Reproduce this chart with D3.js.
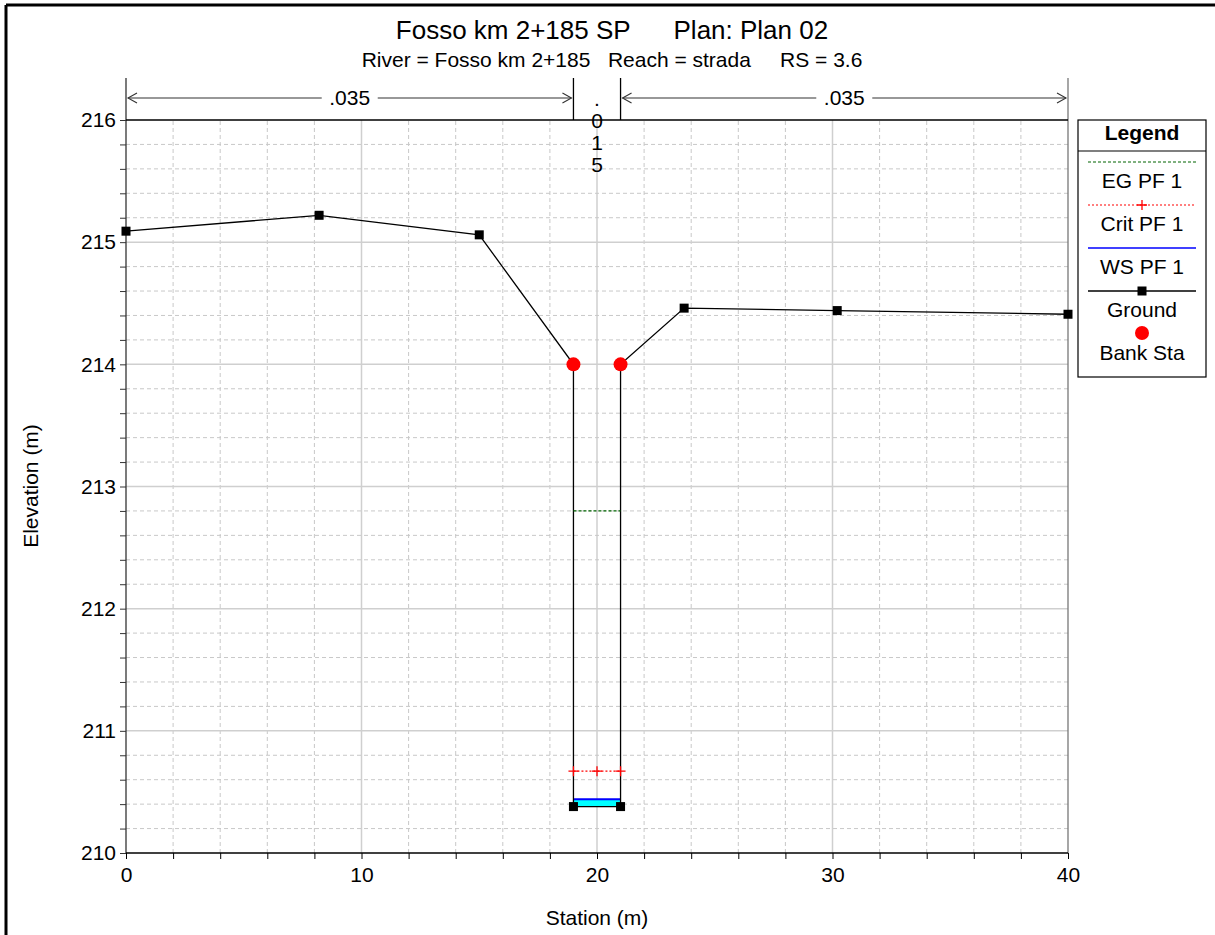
<!DOCTYPE html>
<html><head><meta charset="utf-8">
<script src="https://cdn.jsdelivr.net/npm/d3@7"></script>
<style>body{margin:0;background:#fff}text{font-family:"Liberation Sans",Arial,sans-serif}</style>
</head><body>
<script>
// ---- data ----
const groundStation = [0, 8.2, 15, 19, 19, 21, 21, 23.7, 30.2, 40];
const groundElev    = [215.09, 215.22, 215.06, 214.0, 210.38, 210.38, 214.0, 214.46, 214.44, 214.41];
const bankStation = [19, 21];
const bankElev = [214.0, 214.0];
const wsElev = 210.44;
const critElev = 210.67;
const critStations = [19, 20, 21];
const egElev = 212.80;
const channelStations = [19, 21];
const nValues = [".035", ".015", ".035"];
const nBreaks = [0, 19, 21, 40];
const xTicks = [0, 10, 20, 30, 40];
const yTicks = [210, 211, 212, 213, 214, 215, 216];
const legendItems = ["EG PF 1", "Crit PF 1", "WS PF 1", "Ground", "Bank Sta"];

const W = 1215, H = 935;
const svg = d3.select("body").append("svg").attr("width", W).attr("height", H);
const x = d3.scaleLinear().domain([0, 40]).range([126, 1068]);
const y = d3.scaleLinear().domain([210, 216]).range([853, 120]);
const FS = 21;

// outer frame (top & left)
svg.append("line").attr("x1",6).attr("x2",W).attr("y1",5).attr("y2",5).attr("stroke","#000").attr("stroke-width",3);
svg.append("line").attr("x1",6).attr("x2",6).attr("y1",5).attr("y2",H).attr("stroke","#000").attr("stroke-width",3);

// grid
const g = svg.append("g");
d3.range(0, 40.001, 2).forEach(v => {
  if (v === 0 || v === 40) return;
  const major = v % 10 === 0;
  g.append("line").attr("x1",x(v)).attr("x2",x(v)).attr("y1",y(210)).attr("y2",y(216))
    .attr("stroke", major ? "#cfcfcf" : "#c8c8c8").attr("stroke-width", major?1.5:1)
    .attr("stroke-dasharray", major ? null : "4,3");
});
d3.range(0, 30).forEach(i => {
  const v = 210 + i * 0.2;
  if (i === 0) return;
  const major = i % 5 === 0;
  g.append("line").attr("x1",x(0)).attr("x2",x(40)).attr("y1",y(v)).attr("y2",y(v))
    .attr("stroke", major ? "#cfcfcf" : "#c8c8c8").attr("stroke-width", major?1.5:1)
    .attr("stroke-dasharray", major ? null : "4,3");
});

// axes
const yAxis = d3.axisLeft(y).tickValues(d3.range(0,31).map(i=>210+i*0.2)).tickSize(6)
  .tickFormat(d => yTicks.some(t => Math.abs(t - d) < 1e-6) ? d3.format("d")(Math.round(d)) : "");
const ya = svg.append("g").attr("transform",`translate(${x(0)},0)`).call(yAxis);
ya.select(".domain").remove();
ya.selectAll("line").attr("stroke","#333");
ya.selectAll("text").attr("font-size",FS).attr("fill","#000").attr("dx","-1px");

const xAxis = d3.axisBottom(x).tickValues(d3.range(0,41,2)).tickSize(6)
  .tickFormat(d => xTicks.includes(d) ? d : "");
const xa = svg.append("g").attr("transform",`translate(0,${y(210)})`).call(xAxis);
xa.select(".domain").remove();
xa.selectAll("line").attr("stroke","#000");
xa.selectAll("text").attr("font-size",FS).attr("fill","#000").attr("dy","0.95em");

// plot borders
svg.append("line").attr("x1",x(0)).attr("x2",x(0)).attr("y1",78).attr("y2",y(210)).attr("stroke","#333").attr("stroke-width",1.3);
svg.append("line").attr("x1",x(40)).attr("x2",x(40)).attr("y1",78).attr("y2",y(210)).attr("stroke","#777").attr("stroke-width",1.3);
svg.append("line").attr("x1",x(0)).attr("x2",x(40)).attr("y1",y(210)).attr("y2",y(210)).attr("stroke","#000").attr("stroke-width",1.5);
svg.append("line").attr("x1",x(0)).attr("x2",x(40)).attr("y1",y(216)).attr("y2",y(216)).attr("stroke","#000").attr("stroke-width",1.5);

// n-value bars at top
[19, 21].forEach(s => svg.append("line").attr("x1",x(s)).attr("x2",x(s)).attr("y1",78).attr("y2",y(216)).attr("stroke","#000").attr("stroke-width",1.3));
function arrow(s0, s1, label) {
  const a = x(s0) + 2, b = x(s1) - 2, yy = 98;
  const ga = svg.append("g").attr("stroke","#333").attr("fill","none").attr("stroke-width",1.1);
  ga.append("line").attr("x1",a).attr("x2",b).attr("y1",yy).attr("y2",yy);
  ga.append("path").attr("d",`M${a+9},${yy-5}L${a},${yy}L${a+9},${yy+5}`);
  ga.append("path").attr("d",`M${b-9},${yy-5}L${b},${yy}L${b-9},${yy+5}`);
  const cx = (a + b) / 2;
  svg.append("rect").attr("x",cx-28).attr("y",yy-10).attr("width",56).attr("height",20).attr("fill","#fff");
  svg.append("text").attr("x",cx).attr("y",yy+7).attr("text-anchor","middle").attr("font-size",FS).text(label);
}
arrow(nBreaks[0], nBreaks[1], nValues[0]);
arrow(nBreaks[2], nBreaks[3], nValues[2]);
const mid = (nBreaks[1] + nBreaks[2]) / 2;
nValues[1].split("").forEach((c, i) => {
  svg.append("text").attr("x",x(mid)).attr("y",106 + i*22).attr("text-anchor","middle").attr("font-size",FS).text(c);
});

// water fill
const wsArea = d3.area().x(d => x(d)).y0(y(groundElev[4])).y1(y(wsElev));
svg.append("path").datum(channelStations).attr("d", wsArea).attr("fill","#00ffff");
svg.append("line").attr("x1",x(channelStations[0])).attr("x2",x(channelStations[1])).attr("y1",y(wsElev)).attr("y2",y(wsElev)).attr("stroke","#0000ff").attr("stroke-width",2);

// ground line
const pts = groundStation.map((s, i) => [s, groundElev[i]]);
svg.append("path").datum(pts).attr("d", d3.line().x(d=>x(d[0])).y(d=>y(d[1]))).attr("fill","none").attr("stroke","#000").attr("stroke-width",1.3);

// EG
svg.append("line").attr("x1",x(channelStations[0])).attr("x2",x(channelStations[1])).attr("y1",y(egElev)).attr("y2",y(egElev)).attr("stroke","#006400").attr("stroke-width",1.3).attr("stroke-dasharray","3,2");
// Crit
svg.append("line").attr("x1",x(channelStations[0])).attr("x2",x(channelStations[1])).attr("y1",y(critElev)).attr("y2",y(critElev)).attr("stroke","#ff0000").attr("stroke-width",1.3).attr("stroke-dasharray","2,2");
critStations.forEach(s => {
  svg.append("path").attr("d",`M${x(s)-5},${y(critElev)}h10M${x(s)},${y(critElev)-5}v10`).attr("stroke","#ff0000").attr("stroke-width",1.3);
});

// ground markers
svg.selectAll(".gsq").data(pts.filter((d,i)=>!(i===3||i===6))).enter().append("rect")
  .attr("x",d=>x(d[0])-4.5).attr("y",d=>y(d[1])-4.5).attr("width",9).attr("height",9).attr("fill","#000");

// bank stations
bankStation.forEach((s, i) => svg.append("circle").attr("cx",x(s)).attr("cy",y(bankElev[i])).attr("r",7).attr("fill","#ff0000"));

// titles
svg.append("text").attr("x",612).attr("y",39).attr("text-anchor","middle").attr("font-size",26)
  .style("white-space","pre").text("Fosso km 2+185 SP      Plan: Plan 02");
svg.append("text").attr("x",612).attr("y",67).attr("text-anchor","middle").attr("font-size",21)
  .style("white-space","pre").text("River = Fosso km 2+185   Reach = strada     RS = 3.6");
svg.append("text").attr("x",597).attr("y",925).attr("text-anchor","middle").attr("font-size",FS).text("Station (m)");
svg.append("text").attr("transform","translate(38,486) rotate(-90)").attr("text-anchor","middle").attr("font-size",FS).text("Elevation (m)");

// legend
const lx = 1078, lw = 128, lt = 120, lb = 377;
svg.append("rect").attr("x",lx).attr("y",lt).attr("width",lw).attr("height",lb-lt).attr("fill","#fff").attr("stroke","#000").attr("stroke-width",1.2);
svg.append("line").attr("x1",lx).attr("x2",lx+lw).attr("y1",151).attr("y2",151).attr("stroke","#000").attr("stroke-width",1.2);
svg.append("text").attr("x",lx+lw/2).attr("y",140).attr("text-anchor","middle").attr("font-size",FS).attr("font-weight","bold").text("Legend");
const lcx = lx + lw/2, l1 = lx + 10, l2 = lx + lw - 10;
const rows = [162, 205, 248, 291, 333];
svg.append("line").attr("x1",l1).attr("x2",l2).attr("y1",rows[0]).attr("y2",rows[0]).attr("stroke","#006400").attr("stroke-width",1.2).attr("stroke-dasharray","3,2");
svg.append("line").attr("x1",l1).attr("x2",l2).attr("y1",rows[1]).attr("y2",rows[1]).attr("stroke","#ff0000").attr("stroke-width",1.2).attr("stroke-dasharray","2,2");
svg.append("path").attr("d",`M${lcx-5},${rows[1]}h10M${lcx},${rows[1]-5}v10`).attr("stroke","#ff0000").attr("stroke-width",1.3);
svg.append("line").attr("x1",l1).attr("x2",l2).attr("y1",rows[2]).attr("y2",rows[2]).attr("stroke","#0000ff").attr("stroke-width",1.5);
svg.append("line").attr("x1",l1).attr("x2",l2).attr("y1",rows[3]).attr("y2",rows[3]).attr("stroke","#000").attr("stroke-width",1.3);
svg.append("rect").attr("x",lcx-4.5).attr("y",rows[3]-4.5).attr("width",9).attr("height",9).attr("fill","#000");
svg.append("circle").attr("cx",lcx).attr("cy",rows[4]).attr("r",7).attr("fill","#ff0000");
legendItems.forEach((t, i) => {
  svg.append("text").attr("x",lcx).attr("y",[188,231,274,317,360][i]).attr("text-anchor","middle").attr("font-size",FS).text(t);
});
</script>
</body></html>
